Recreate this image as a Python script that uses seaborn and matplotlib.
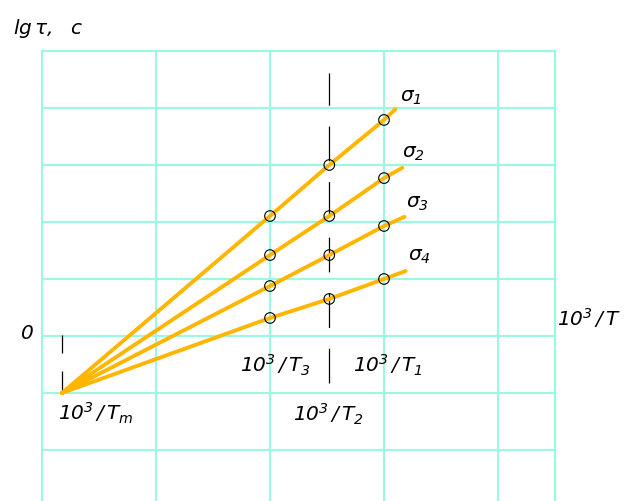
import matplotlib
matplotlib.use("Agg")
import matplotlib.pyplot as plt
import seaborn as sns
import pandas as pd

# Reciprocal temperatures (10^3/T) at which the durability was measured
x_tm = 0.175          # 10^3/T_m, common pole of all the lines
x_t3 = 2.0
x_t2 = 2.52
x_t1 = 3.0
x_end = [3.10, 3.16, 3.18, 3.19]   # where each line stops

# lg(tau) at the pole and at T3, T2, T1 for each stress level
y_tm = -1.0
stress = ["σ1", "σ2", "σ3", "σ4"]
lg_tau = {
    "σ1": [2.105, 3.00, 3.79],
    "σ2": [1.42, 2.105, 2.77],
    "σ3": [0.877, 1.42, 1.93],
    "σ4": [0.316, 0.65, 1.00],
}
y_end = [3.98, 2.95, 2.09, 1.14]

stress_labels = [r"$\sigma_1$", r"$\sigma_2$", r"$\sigma_3$", r"$\sigma_4$"]

GRID = "#9ef7e2"
ORANGE = "#ffb600"

rows, pts = [], []
for i, s in enumerate(stress):
    xs = [x_tm, x_t3, x_t2, x_t1, x_end[i]]
    ys = [y_tm] + lg_tau[s] + [y_end[i]]
    rows += [dict(series=s, x=a, y=b) for a, b in zip(xs, ys)]
    pts += [dict(series=s, x=a, y=b) for a, b in zip([x_t3, x_t2, x_t1], lg_tau[s])]
lines = pd.DataFrame(rows)
points = pd.DataFrame(pts)

sns.set_style("white")
# all labels in an oblique face, digits included
plt.rcParams["mathtext.fontset"] = "custom"
plt.rcParams["mathtext.rm"] = "DejaVu Sans:italic"
plt.rcParams["mathtext.it"] = "DejaVu Sans:italic"
plt.rcParams["mathtext.sf"] = "DejaVu Sans:italic"
plt.rcParams["mathtext.default"] = "it"
plt.rcParams["lines.scale_dashes"] = False

W, H = 625, 501
fig = plt.figure(figsize=(W / 100, H / 100), dpi=100)
ax = fig.add_axes([42 / W, 0, 513 / W, 450 / H])
ax.set_xlim(0, 4.5)
ax.set_ylim(-2.895, 5.0)

# square-ish grid
ax.set_xticks([1, 2, 3, 4])
ax.set_yticks([-2, -1, 0, 1, 2, 3, 4])
ax.grid(True, color=GRID, linewidth=1.6)
ax.tick_params(length=0, labelbottom=False, labelleft=False)
for side in ["left", "right", "top"]:
    ax.spines[side].set_color(GRID)
    ax.spines[side].set_linewidth(1.6)
ax.spines["bottom"].set_visible(False)

# reference marks at 10^3/T_m and 10^3/T_2
ax.vlines(x_tm, y_tm, 0.02, color="black", linewidth=0.9,
          linestyle=(0, (15.8, 13)), zorder=2)
ax.vlines(x_t2, -0.82, 4.61, color="black", linewidth=0.9,
          linestyle=(0, (25, 15)), zorder=2)

sns.lineplot(data=lines, x="x", y="y", units="series", estimator=None,
             color=ORANGE, linewidth=2.8, ax=ax, zorder=3, legend=False)
sns.scatterplot(data=points, x="x", y="y", ax=ax, s=58, marker="o",
                facecolor="none", edgecolor="black", linewidth=0.8,
                zorder=4, legend=False)
ax.set_xlabel("")
ax.set_ylabel("")

fs = 14.5
txt = dict(color="black", fontsize=fs, clip_on=False)
ax.text(-0.254, 5.40, r"$lg\,\tau,\ \ c$", ha="left", va="center", **txt)
ax.text(-0.13, 0.05, r"$0$", ha="center", va="center", **txt)

def recip(sub=None):
    base = r"10^3\,/\,T"
    if sub is not None:
        base += "_" + sub
    return "$" + base + "$"

ax.text(5.085, 0.32, recip(), ha="right", va="center", **txt)
ax.text(0.14, -1.35, recip("m"), ha="left", va="center", **txt)
ax.text(1.737, -0.51, recip("3"), ha="left", va="center", **txt)
ax.text(2.73, -0.51, recip("1"), ha="left", va="center", **txt)
ax.text(2.20, -1.37, recip("2"), ha="left", va="center", **txt)

lab_x = [3.14, 3.16, 3.19, 3.21]
lab_y = [4.19, 3.21, 2.32, 1.39]
for lx, ly, lab in zip(lab_x, lab_y, stress_labels):
    ax.text(lx, ly, lab, ha="left", va="center", **txt)

fig.savefig("out.png", dpi=100)
